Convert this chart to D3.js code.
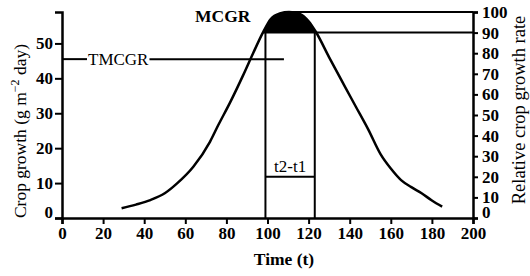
<!DOCTYPE html>
<html>
<head>
<meta charset="utf-8">
<script src="https://cdn.jsdelivr.net/npm/d3@7"></script>
<style>
  body { margin: 0; background: #fff; }
  svg text { font-family: "Liberation Serif", "Times New Roman", serif; fill: #000; }
</style>
</head>
<body>
<svg id="chart" width="530" height="276"></svg>
<script>
// curve (time, relative crop growth rate %)
var time = [29, 36, 43, 50, 56, 64, 72, 76, 82, 88, 93, 98, 101.5, 106, 110.5, 116, 120, 123.5, 130, 137, 143, 149, 155, 160, 165, 170, 175, 180, 185];
var rel  = [4.7, 6.5, 8.7, 12, 16.8, 25, 37, 45, 56.5, 69, 80, 90.5, 96.5, 99.3, 100, 99, 95.5, 90.4, 78, 65, 54, 43, 31, 24, 18.4, 15, 12, 8.5, 5.5];

var xTicks = [0, 20, 40, 60, 80, 100, 120, 140, 160, 180, 200];
var leftTicks = [0, 10, 20, 30, 40, 50];
var rightTicks = [0, 10, 20, 30, 40, 50, 60, 70, 80, 90, 100];

// marker values
var t1 = 99, t2 = 123;
var rel90 = 90, rel100 = 100, relSpan = 20;
var tmcgr = 45.5;          // on left axis
var tmcgrEnd = 108;        // time where TMCGR line stops
var line90Start = 98, line100Start = 111;

var svg = d3.select("#chart");

var x = d3.scaleLinear().domain([0, 200]).range([62, 473]);
var yL = d3.scaleLinear().domain([0, 59]).range([218, 12]);
var yR = d3.scaleLinear().domain([0, 100]).range([218, 12]);

var data = time.map(function(t, i){ return {t: t, v: rel[i]}; });

// axes
var xAxis = svg.append("g")
    .attr("transform", "translate(0,218)")
    .call(d3.axisBottom(x).tickValues(xTicks).tickSize(6).tickPadding(3).tickFormat(d3.format("d")));
var lAxis = svg.append("g")
    .attr("transform", "translate(62,0)")
    .call(d3.axisLeft(yL).tickValues(leftTicks).tickSize(7).tickPadding(2).tickFormat(d3.format("d")));
var rAxis = svg.append("g")
    .attr("transform", "translate(473,0)")
    .call(d3.axisRight(yR).tickValues(rightTicks).tickSize(5).tickPadding(4).tickFormat(d3.format("d")));

[xAxis, lAxis, rAxis].forEach(function(a){
  a.select(".domain").attr("stroke", "#000").attr("stroke-width", 2.5);
  a.selectAll(".tick line").attr("stroke", "#000").attr("stroke-width", 2);
  a.selectAll(".tick text")
    .style("font-family", '"Liberation Serif", "Times New Roman", serif')
    .style("font-size", "17px").style("font-weight", "bold").attr("fill", "#000");
});
// the zero labels sit a little above the x axis
lAxis.selectAll(".tick text").filter(function(d){ return d === 0; }).attr("y", -6);
rAxis.selectAll(".tick text").filter(function(d){ return d === 0; }).attr("y", -6);

// dome above 90%
var dome = data.filter(function(d){ return d.v >= rel90; });
svg.append("path")
  .datum(dome)
  .attr("fill", "#000")
  .attr("d", d3.area().curve(d3.curveMonotoneX)
      .x(function(d){ return x(d.t); })
      .y0(yR(rel90))
      .y1(function(d){ return yR(d.v); }));

// growth curve
svg.append("path")
  .datum(data)
  .attr("fill", "none")
  .attr("stroke", "#000")
  .attr("stroke-width", 2.5)
  .attr("d", d3.line().curve(d3.curveMonotoneX)
      .x(function(d){ return x(d.t); })
      .y(function(d){ return yR(d.v); }));

function seg(x1, y1, x2, y2){
  svg.append("line").attr("x1", x1).attr("y1", y1).attr("x2", x2).attr("y2", y2)
    .attr("stroke", "#000").attr("stroke-width", 2);
}

seg(x(line90Start), yR(rel90), x(200), yR(rel90));
seg(x(line100Start), yR(rel100), x(200), yR(rel100));
seg(x(t1), yR(0), x(t1), yR(rel90));
seg(x(t2), yR(0), x(t2), yR(rel90));
seg(x(t1), yR(relSpan), x(t2), yR(relSpan));

// TMCGR line with label in the gap
var tm = svg.append("text")
  .attr("x", 88).attr("y", yL(tmcgr)).attr("dy", "0.35em")
  .style("font-size", "17px")
  .text("TMCGR");
var tmLen = tm.node().getComputedTextLength();
seg(x(0), yL(tmcgr), 87, yL(tmcgr));
seg(88 + tmLen + 1, yL(tmcgr), x(tmcgrEnd), yL(tmcgr));

svg.append("text")
  .attr("x", 195).attr("y", 22)
  .style("font-size", "17.5px").style("font-weight", "bold")
  .text("MCGR");

svg.append("text")
  .attr("x", (x(t1) + x(t2)) / 2).attr("y", 172)
  .attr("text-anchor", "middle")
  .style("font-size", "17px")
  .text("t2-t1");

svg.append("text")
  .attr("x", 284).attr("y", 265)
  .attr("text-anchor", "middle")
  .style("font-size", "17.5px").style("font-weight", "bold")
  .text("Time (t)");

var lt = svg.append("text")
  .attr("transform", "translate(26,131) rotate(-90)")
  .attr("text-anchor", "middle")
  .style("font-size", "17.5px");
lt.append("tspan").text("Crop growth (g m");
lt.append("tspan").attr("dy", -7).style("font-size", "12px").text("\u22122");
lt.append("tspan").attr("dy", 7).text(" day)");

svg.append("text")
  .attr("transform", "translate(525,110) rotate(-90)")
  .attr("text-anchor", "middle")
  .style("font-size", "18.5px")
  .text("Relative crop growth rate");
</script>
</body>
</html>
